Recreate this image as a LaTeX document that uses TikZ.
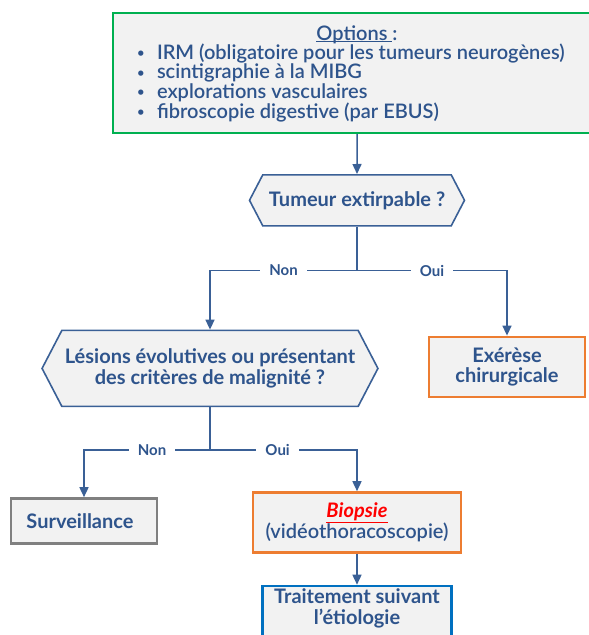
\documentclass[tikz,border=0pt]{standalone}
\usepackage{fontspec}
\setmainfont{Lato}
\newfontfamily\semifont{Lato Semibold}
\usetikzlibrary{shapes.symbols, arrows.meta, positioning, calc}
\definecolor{textblue}{RGB}{46,84,140}
\definecolor{lineblue}{RGB}{58,96,150}
\definecolor{boxgray}{RGB}{242,242,242}
\definecolor{greenline}{RGB}{0,176,80}
\definecolor{orangeline}{RGB}{237,125,49}
\definecolor{grayline}{RGB}{128,128,128}
\definecolor{blueline}{RGB}{0,112,192}
\lineskiplimit=-100pt
\newcommand\bull{\makebox[20pt][l]{\raisebox{1.5pt}{\fontsize{13}{13}\selectfont\textbullet}}}
\tikzset{
  base/.style = {
    draw, line width=2pt, fill=boxgray, text=textblue,
    font=\bfseries\fontsize{20}{20.5}\selectfont, align=center, inner sep=3pt
  },
  options box/.style = {
    base, rectangle, draw=greenline, font=\semifont\fontsize{20}{18.3}\selectfont,
    minimum width=488pt, minimum height=120pt
  },
  decision/.style = {
    base, shape=signal, signal to=west and east, signal pointer angle=125,
    draw=lineblue, line width=1.6pt
  },
  action/.style = {
    base, rectangle, draw=orangeline, line width=2.5pt
  },
  watch/.style = {
    base, rectangle, draw=grayline, line width=2.5pt
  },
  treat/.style = {
    base, rectangle, draw=blueline, line width=2.5pt
  },
  answer/.style = {
    fill=white, text=textblue, font=\bfseries\fontsize{15}{16}\selectfont,
    inner xsep=9pt, inner ysep=2pt
  },
  link/.style = {
    draw=lineblue, line width=1.5pt
  },
  arrow/.style = {
    link, -{Triangle[width=9pt,length=10pt]}
  }
}

\begin{document}
\begin{tikzpicture}
  \useasboundingbox (0,0) rectangle (589pt,-635pt);

  % Top box
  \node[options box] (options) at (357pt,-73pt)
    {\rule{0pt}{16pt}\underline{\smash{Options\ }}:\\[1pt]
     \parbox[t]{440pt}{\raggedright
       \bull IRM (obligatoire pour les tumeurs neurogènes)\\
       \bull scintigraphie à la MIBG\\
       \bull explorations vasculaires\\
       \bull fibroscopie digestive (par EBUS)}};

  % Decisions
  \node[decision, minimum width=215pt, minimum height=51pt, below=40pt of options] (extirpable) {Tumeur extirpable ?};
  \node[decision, minimum width=330pt, minimum height=76pt, below=103pt of extirpable, xshift=-147pt] (malignite)
    {Lésions évolutives ou présentant\\des critères de malignité ?};

  % Outcomes
  \node[action, minimum width=156pt, minimum height=60pt, below=109pt of extirpable, xshift=150pt] (exerese) {Exérèse\\chirurgicale};
  \node[watch, minimum width=146pt, minimum height=45pt, below=90pt of malignite, xshift=-126pt] (surveillance) {Surveillance\hspace{8pt}};
  \node[action, minimum width=208pt, minimum height=60pt, below=84pt of malignite, xshift=147pt] (biopsie)
    {\textcolor{red}{\itshape\underline{Biopsie}}\\{\mdseries\semifont(vidéothoracoscopie)}};
  \node[treat, minimum width=189pt, text depth=26pt, below=31pt of biopsie] (traitement) {Traitement suivant\\l'étiologie};

  % Arrows
  \draw[arrow] (options) -- (extirpable);
  \draw[link] (extirpable.south) -- ++(0,-44pt) coordinate (split1);
  \draw[arrow] (split1) -| node[answer, pos=0.25] {Non} (malignite.north);
  \draw[arrow] (split1) -| node[answer, pos=0.25] {Oui} (exerese.north);

  \draw[link] (malignite.south) -- ++(0,-43pt) coordinate (split2);
  \draw[arrow] (split2) -| node[answer, pos=0.23] {Non} (surveillance.north);
  \draw[arrow] (split2) -| node[answer, pos=0.23] {Oui} (biopsie.north);
  \draw[arrow] (biopsie) -- (traitement);

\end{tikzpicture}
\end{document}
